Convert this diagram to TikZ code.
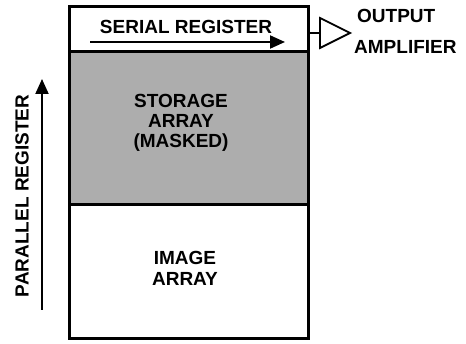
\documentclass[tikz,border=0pt]{standalone}
\usepackage{fontspec}
\setmainfont{Liberation Sans}
\usetikzlibrary{arrows.meta}
\begin{document}
\begin{tikzpicture}[x=1pt,y=-1pt,
  lbl/.style={font=\bfseries\fontsize{19}{20}\selectfont, align=center, inner sep=0pt},
  boxline/.style={line width=2.8pt},
  arr/.style={line width=2pt, -{Triangle[length=15pt,width=13pt]}}]
\useasboundingbox (0,0) rectangle (466,344);
% regions
\fill[black!32] (68,50) rectangle (307,203);
\node[draw, boxline, minimum width=239pt, minimum height=45pt, inner sep=0pt, anchor=north west] (serial) at (68,5) {};
\node[draw, boxline, minimum width=239pt, minimum height=153pt, inner sep=0pt, anchor=north west] (storage) at (68,50) {};
\node[draw, boxline, minimum width=239pt, minimum height=134pt, inner sep=0pt, anchor=north west] (image) at (68,203) {};
% texts
\node[lbl] (st) at (186,27) {SERIAL REGISTER};
\node[lbl] (stor) at (181,123) {STORAGE\\ARRAY\\(MASKED)};
\node[lbl, font=\bfseries\fontsize{19}{21}\selectfont] (img) at (185,268) {IMAGE\\ARRAY};
% serial arrow
\coordinate (sa) at (90,42);
\coordinate (sb) at (285,42);
\draw[arr] (sa) -- (sb);
% output amplifier
\coordinate (ampin) at (320,33);
\draw[line width=1.8pt] (307,33) -- (ampin);
\draw[line width=1.8pt, line join=miter] (320,18) -- (350,33) -- (320,48) -- cycle;
\node[lbl, anchor=west] (out) at (357,16) {OUTPUT};
\node[lbl, anchor=west] (ampl) at (354,47) {AMPLIFIER};
% parallel register
\node[lbl, rotate=90] (par) at (22,196) {PARALLEL REGISTER};
\coordinate (pa) at (42,310);
\coordinate (pb) at (42,79);
\draw[arr] (pa) -- (pb);
\end{tikzpicture}
\end{document}
